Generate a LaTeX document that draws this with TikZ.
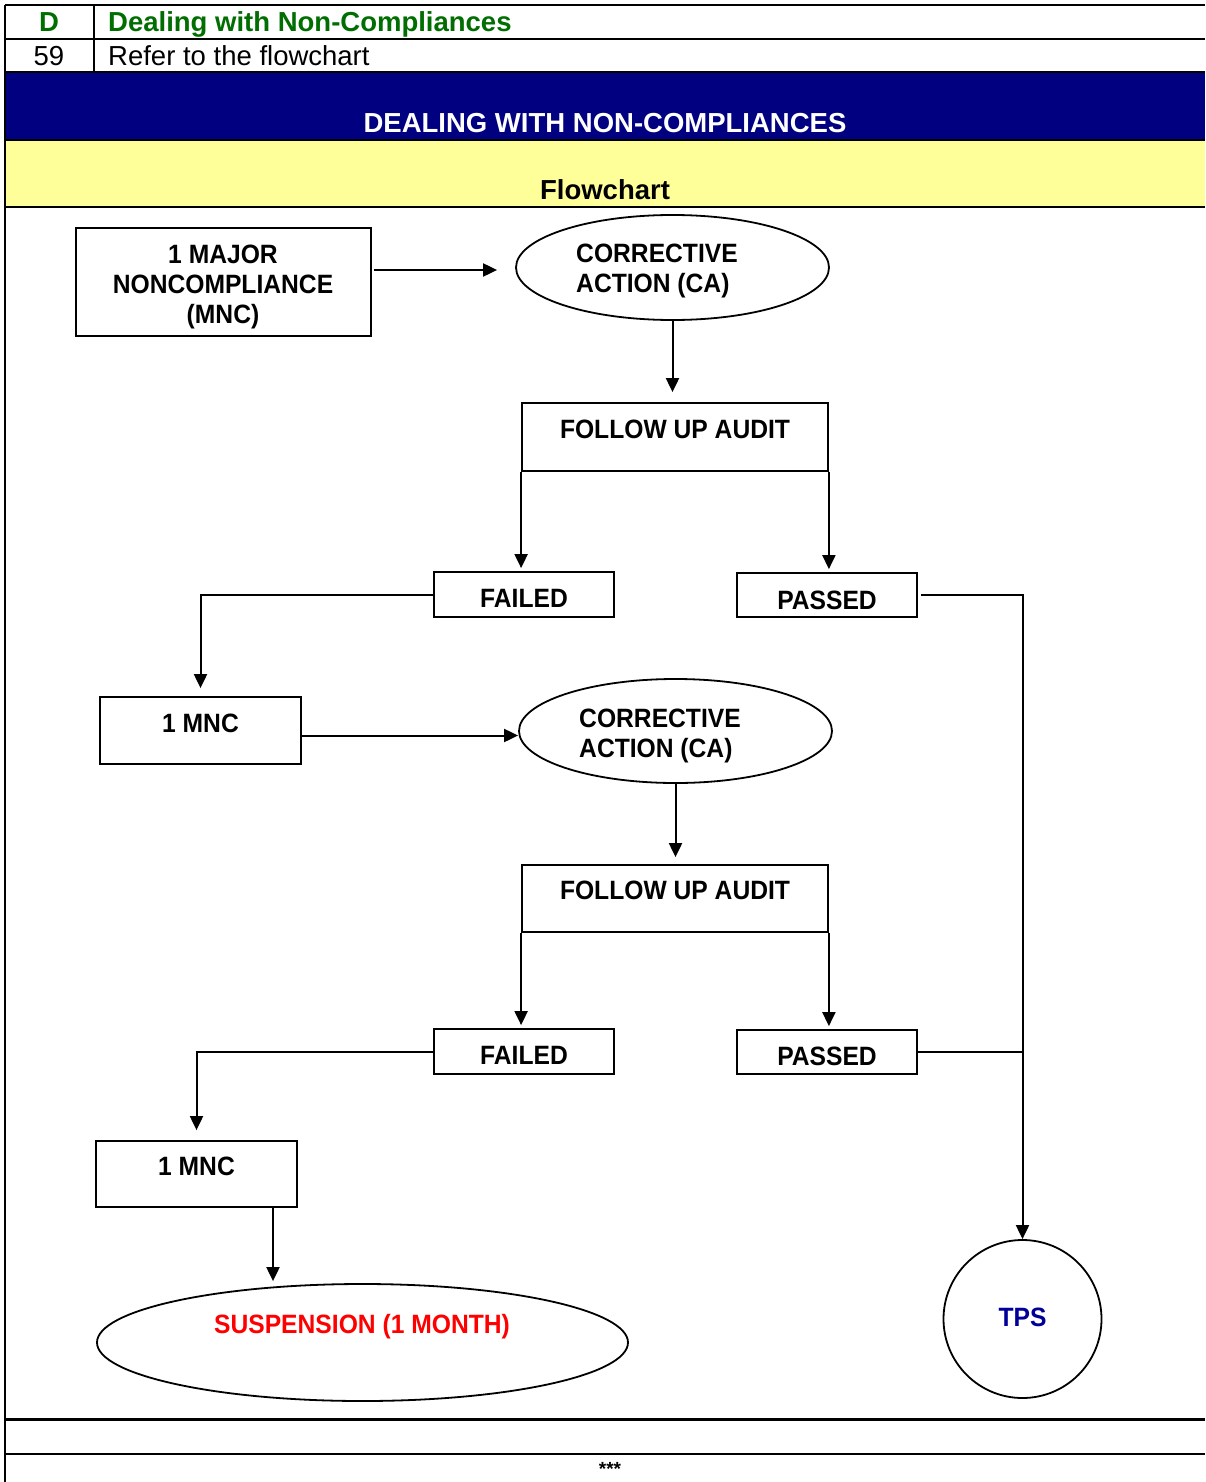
\documentclass[tikz,border=0pt]{standalone}
\usepackage{fontspec}
\setmainfont{Liberation Sans}
\newfontfamily\flowfont[FakeStretch=0.93]{Liberation Sans}
\usetikzlibrary{shapes.geometric,arrows.meta}
\definecolor{hdrgreen}{RGB}{0,110,0}
\definecolor{navyband}{RGB}{0,0,128}
\definecolor{yellowband}{RGB}{255,255,153}
\definecolor{tpsblue}{RGB}{0,0,153}
\definecolor{suspred}{RGB}{255,0,0}
\begin{document}
\begin{tikzpicture}[x=1pt,y=-1pt,
  box/.style={draw,line width=1.8pt,rectangle,inner sep=0pt},
  oval/.style={draw,line width=1.8pt,ellipse,inner sep=0pt},
  lbl/.style={font=\flowfont\bfseries\fontsize{26.5}{30}\selectfont,inner sep=0pt,align=center},
  bl/.style={lbl,anchor=base},
  conn/.style={line width=2pt},
  arr/.style={conn,-{Triangle[length=14pt,width=13pt]}},
  hdr/.style={font=\fontsize{27.5}{30}\selectfont,inner sep=0pt,anchor=base},
  hdrb/.style={font=\bfseries\fontsize{27.5}{30}\selectfont,inner sep=0pt,anchor=base}
]
\useasboundingbox (0,0) rectangle (1205,1482);
\fill[white] (0,0) rectangle (1205,1482);

% header table
\fill[navyband] (5,72) rectangle (1205,140);
\fill[yellowband] (5,140) rectangle (1205,207);
\draw[line width=2.5pt] (5,5) -- (1205,5);
\draw[line width=2pt] (5,39) -- (1205,39);
\draw[line width=2pt] (5,72) -- (1205,72);
\draw[line width=2pt] (5,140) -- (1205,140);
\draw[line width=2pt] (5,207) -- (1205,207);
\draw[line width=2.5pt] (5,5) -- (5,1482);
\draw[line width=1.5pt] (94,5) -- (94,72);
\draw[line width=3pt] (5,1419) -- (1205,1419);
\draw[line width=1.8pt] (5,1454) -- (1205,1454);

\node[hdrb,text=hdrgreen] (secD) at (49,32) {D};
\node[hdrb,text=hdrgreen,anchor=base west] (secT) at (108,32) {Dealing with Non-Compliances};
\node[hdr] (num) at (49,66) {59};
\node[hdr,anchor=base west] (ref) at (108,66) {Refer to the flowchart};
\node[hdrb,text=white] (title) at (605,133) {DEALING WITH NON-COMPLIANCES};
\node[hdrb] (fc) at (605,200) {Flowchart};
\node[font=\bfseries\fontsize{19}{19}\selectfont,inner sep=0pt] (stars) at (610,1469) {***};

% shapes
\node[box,minimum width=295pt,minimum height=108pt] (mnc) at (223.5,282) {};
\node[lbl] (mnct) at (223,286.6) {1 MAJOR\\NONCOMPLIANCE\\(MNC)};

\node[oval,minimum width=313pt,minimum height=105pt] (ca1) at (672.5,267.5) {};
\node[lbl,align=left,anchor=west] (ca1t) at (576,270.6) {CORRECTIVE\\ACTION (CA)};

\node[box,minimum width=306pt,minimum height=68pt] (fua1) at (675,437) {};
\node[bl] (fua1t) at (675,438.5) {FOLLOW UP AUDIT};

\node[box,minimum width=180pt,minimum height=45pt] (failed1) at (524,594.5) {};
\node[bl] (failed1t) at (524,607.5) {FAILED};
\node[box,minimum width=180pt,minimum height=44pt] (passed1) at (827,595) {};
\node[bl] (passed1t) at (827,609) {PASSED};

\node[box,minimum width=201pt,minimum height=67pt] (mnc2) at (200.5,730.5) {};
\node[bl] (mnc2t) at (200.5,732.5) {1 MNC};

\node[oval,minimum width=313pt,minimum height=104pt] (ca2) at (675.5,731) {};
\node[lbl,align=left,anchor=west] (ca2t) at (579,735.6) {CORRECTIVE\\ACTION (CA)};

\node[box,minimum width=306pt,minimum height=67pt] (fua2) at (675,898.5) {};
\node[bl] (fua2t) at (675,899.5) {FOLLOW UP AUDIT};

\node[box,minimum width=180pt,minimum height=45pt] (failed2) at (524,1051.5) {};
\node[bl] (failed2t) at (524,1064.5) {FAILED};
\node[box,minimum width=180pt,minimum height=44pt] (passed2) at (827,1052) {};
\node[bl] (passed2t) at (827,1065.5) {PASSED};

\node[box,minimum width=201pt,minimum height=66pt] (mnc3) at (196.5,1174) {};
\node[bl] (mnc3t) at (196.5,1175.5) {1 MNC};

\node[oval,minimum width=531pt,minimum height=117pt] (susp) at (362.5,1342.5) {};
\node[bl,text=suspred] (suspt) at (362,1333.5) {SUSPENSION (1 MONTH)};

\node[draw,line width=1.8pt,circle,inner sep=0pt,minimum size=158pt] (tps) at (1022.5,1319) {};
\node[bl,text=tpsblue] (tpst) at (1022.5,1326.5) {TPS};

% connectors
\draw[arr] ([xshift=2pt,yshift=-2.5pt]mnc.east |- ca1.west) -- ([xshift=-18pt,yshift=-2.5pt]ca1.west);
\draw[arr,shorten >=10pt] (ca1.south) -- (ca1.south |- fua1.north);
\draw[arr,shorten >=3pt] (fua1.south west) -- (fua1.south west |- failed1.north);
\draw[arr,shorten >=3pt] (fua1.south east) -- (fua1.south east |- passed1.north);
\draw[arr,shorten >=8pt] (failed1.west) -| (mnc2.north);
\draw[arr] ([xshift=3pt]passed1.east) -| (tps.north);
\draw[arr] ([yshift=-5pt]mnc2.east) -- ([yshift=-5pt]mnc2.east -| ca2.west);
\draw[arr,shorten >=7pt] (ca2.south) -- (ca2.south |- fua2.north);
\draw[arr,shorten >=3pt] (fua2.south west) -- (fua2.south west |- failed2.north);
\draw[arr,shorten >=3pt] (fua2.south east) -- (fua2.south east |- passed2.north);
\draw[arr,shorten >=10pt] (failed2.west) -| (mnc3.north);
\draw[conn] (passed2.east) -- (passed2.east -| tps.north);
\draw[arr,shorten >=2pt] ([xshift=76.5pt]mnc3.south) -- ([xshift=76.5pt]mnc3.south |- susp.north);
\end{tikzpicture}
\end{document}
